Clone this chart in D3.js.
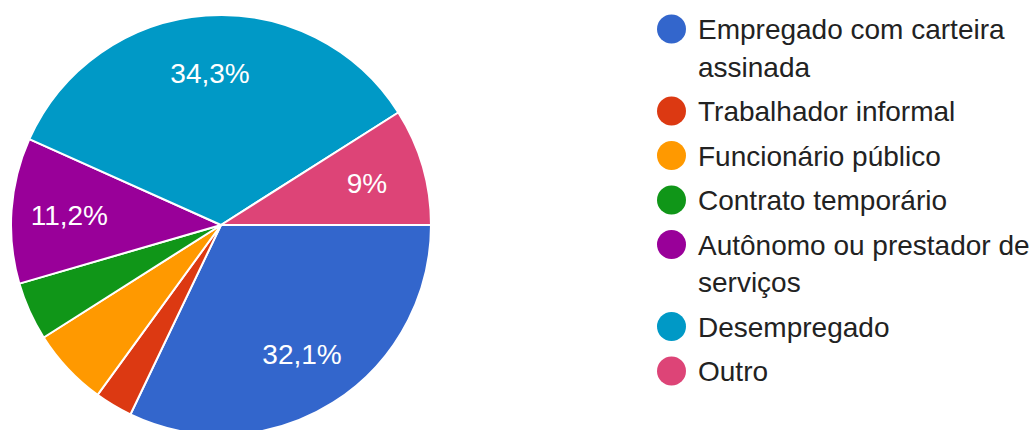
<!DOCTYPE html>
<html>
<head>
<meta charset="utf-8">
<script src="https://cdn.jsdelivr.net/npm/d3@7"></script>
<style>
  html, body { margin: 0; padding: 0; background: #fff; }
  svg { display: block; }
</style>
</head>
<body>
<svg id="chart" width="1034" height="430"></svg>
<script>
// Situação de trabalho dos respondentes (percentual)
const categories = [
  "Empregado com carteira assinada",
  "Trabalhador informal",
  "Funcionário público",
  "Contrato temporário",
  "Autônomo ou prestador de serviços",
  "Desempregado",
  "Outro"
];
const values = [32.1, 2.9, 6.0, 4.5, 11.2, 34.3, 9.0];
const legendLines = [
  ["Empregado com carteira", "assinada"],
  ["Trabalhador informal"],
  ["Funcionário público"],
  ["Contrato temporário"],
  ["Autônomo ou prestador de", "serviços"],
  ["Desempregado"],
  ["Outro"]
];
const colors = ["#3366cc", "#dc3912", "#ff9900", "#109618", "#990099", "#0099c6", "#dd4477"];

const svg = d3.select("#chart");
const font = "'Liberation Sans', Arial, sans-serif";

const cx = 221, cy = 225, radius = 210;
const color = d3.scaleOrdinal().domain(categories).range(colors);

const data = categories.map((c, i) => ({ name: c, value: values[i] }));

const pie = d3.pie()
  .value(d => d.value)
  .sort(null)
  .startAngle(Math.PI / 2)
  .endAngle(Math.PI / 2 + 2 * Math.PI);

const arc = d3.arc().innerRadius(0).outerRadius(radius);
const labelArc = d3.arc().innerRadius(152).outerRadius(152);

const g = svg.append("g").attr("transform", `translate(${cx},${cy})`);
const arcs = pie(data);

g.selectAll("path")
  .data(arcs)
  .join("path")
  .attr("d", arc)
  .attr("fill", d => color(d.data.name))
  .attr("stroke", "#fff")
  .attr("stroke-width", 2)
  .attr("stroke-linejoin", "round");

const fmt = v => (Number.isInteger(v) ? String(v) : v.toFixed(1).replace(".", ",")) + "%";

g.selectAll("text.label")
  .data(arcs.filter(d => d.data.value >= 8))
  .join("text")
  .attr("class", "label")
  .attr("transform", d => `translate(${labelArc.centroid(d)})`)
  .attr("text-anchor", "middle")
  .attr("dy", "0.36em")
  .attr("fill", "#fff")
  .attr("font-family", font)
  .attr("font-size", 28)
  .text(d => fmt(d.data.value));

// Legend
const legend = svg.append("g");
const lx = 671.5, tx = 698;
let y = 29;
legendLines.forEach((lines, i) => {
  const item = legend.append("g");
  item.append("circle")
    .attr("cx", lx).attr("cy", y).attr("r", 14.5)
    .attr("fill", color(categories[i]));
  item.append("text")
    .attr("x", tx).attr("y", y + 10)
    .attr("font-family", font)
    .attr("font-size", 28)
    .attr("fill", "#222")
    .selectAll("tspan")
    .data(lines)
    .join("tspan")
    .attr("x", tx)
    .attr("dy", (d, j) => j === 0 ? 0 : 37.5)
    .text(d => d);
  y += 44.5 + (lines.length - 1) * 37.5;
});
</script>
</body>
</html>
